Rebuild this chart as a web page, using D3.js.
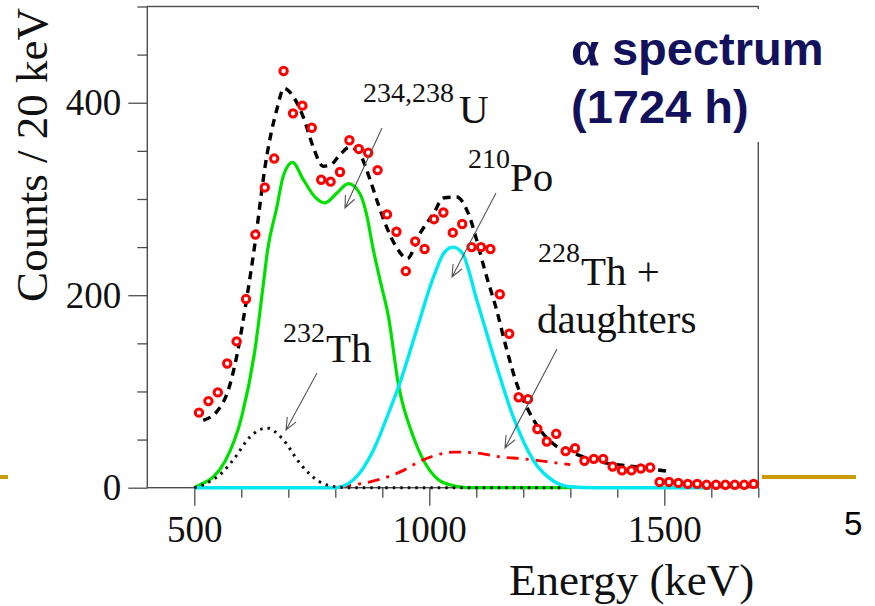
<!DOCTYPE html>
<html lang="en">
<head>
<meta charset="UTF-8">
<title>Alpha spectrum</title>
<style>
  body { margin: 0; background: #fff; }
  svg { display: block; }
</style>
</head>
<body>
<div id="chart"></div>
<script src="https://d3js.org/d3.v7.min.js"></script>
<script>
// measured spectrum, 20 keV bins (bin centre in keV)
const binCentres = [510, 530, 550, 570, 590, 610, 630, 650, 670, 690,
  710, 730, 750, 770, 790, 810, 830, 850, 870, 890,
  910, 930, 950, 970, 990, 1010, 1030, 1050, 1070, 1090,
  1110, 1130, 1150, 1170, 1190, 1210, 1230, 1250, 1270, 1290,
  1310, 1330, 1350, 1370, 1390, 1410, 1430, 1450, 1470, 1490,
  1510, 1530, 1550, 1570, 1590, 1610, 1630, 1650, 1670, 1690];
const counts = [78, 90, 99, 129, 152, 196, 263, 312, 342, 433,
  389, 397, 374, 320, 318, 328, 361, 352, 348, 330,
  284, 266, 225, 256, 248, 279, 286, 265, 274, 250,
  250, 248, 201, 160, 94, 92, 61, 48, 56, 38,
  41, 28, 30, 30, 22, 18, 18, 20, 21, 6,
  6, 5, 4, 4, 3, 3, 3, 3, 3, 4];

// fitted curves, [energy keV, counts]
const totalFit = [[519, 70], [551, 81], [572, 101], [590, 136], [611, 195], [626, 243],
  [654, 344], [675, 392], [691, 415], [711, 406], [732, 385], [753, 354], [774, 334],
  [789, 335], [810, 346], [831, 354], [853, 346], [874, 320], [891, 295], [909, 271],
  [930, 250], [953, 238], [980, 264], [1009, 285], [1030, 301], [1058, 302], [1083, 285],
  [1101, 257], [1118, 226], [1143, 185], [1165, 143], [1186, 108], [1207, 84], [1236, 60],
  [1271, 43], [1306, 36], [1362, 27], [1434, 22], [1508, 17]];
const uFit = [[500, 0], [512, 3], [540, 11], [565, 27], [601, 74], [629, 143], [647, 212], [656, 247],
  [675, 290], [690, 325], [709, 338], [732, 320], [757, 302], [778, 296], [803, 306],
  [828, 316], [853, 305], [866, 285], [881, 247], [897, 212], [913, 178], [934, 108],
  [966, 53], [1001, 18], [1020, 8], [1044, 3], [1080, 0], [1300, 0]];
const poFit = [[500, 0], [800, 0], [838, 8], [881, 39], [916, 81], [937, 108], [973, 164],
  [1009, 219], [1030, 243], [1050, 250], [1070, 244], [1101, 195], [1144, 125], [1179, 73],
  [1222, 28], [1264, 7], [1300, 1], [1350, 0], [1600, 0]];
const th232Fit = [[500, 0], [519, 3], [562, 17], [583, 29], [619, 53], [654, 62], [689, 50],
  [725, 25], [767, 6], [800, 1], [830, 0], [1290, 0]];
const th228Fit = [[500, 0], [780, 0], [825, 2], [882, 7], [945, 18], [974, 26], [1009, 33],
  [1052, 37], [1101, 36], [1151, 32], [1201, 30], [1250, 27], [1300, 24]];

const xMajor = [500, 1000, 1500];
const xMinor = [600, 700, 800, 900, 1100, 1200, 1300, 1400, 1600, 1700];
const yMajor = [0, 200, 400];
const yMinor = [50, 100, 150, 250, 300, 350, 450, 500];

const width = 875, height = 606;
const svg = d3.select('#chart').append('svg')
  .attr('width', width).attr('height', height);

const x = d3.scaleLinear().domain([400, 1700]).range([147.3, 758.3]);
const y = d3.scaleLinear().domain([0, 500]).range([487.7, 6.5]);

const serif = '"Liberation Serif", "Times New Roman", serif';
const axisCol = '#4d4d4d';

// axes
function styleAxis(g) {
  g.select('.domain').remove();
  g.selectAll('.tick line').attr('stroke', axisCol).attr('stroke-width', 1.3);
  g.selectAll('.tick text').attr('font-family', serif).attr('font-size', 37).attr('fill', '#111');
}
svg.append('g').attr('transform', `translate(0,${y(0)})`)
  .call(d3.axisBottom(x).tickValues(xMinor).tickSize(10).tickFormat(''))
  .call(styleAxis);
svg.append('g').attr('transform', `translate(0,${y(0)})`)
  .call(d3.axisBottom(x).tickValues(xMajor).tickSize(18).tickPadding(10).tickFormat(d3.format('d')))
  .call(styleAxis)
  .call(g => g.selectAll('.tick text').attr('dy', '0.72em'));
svg.append('g').attr('transform', `translate(${x(400)},0)`)
  .call(d3.axisLeft(y).tickValues(yMinor).tickSize(10).tickFormat(''))
  .call(styleAxis);
svg.append('g').attr('transform', `translate(${x(400)},0)`)
  .call(d3.axisLeft(y).tickValues(yMajor).tickSize(19).tickPadding(7).tickFormat(d3.format('d')))
  .call(styleAxis);

// frame
svg.append('rect')
  .attr('x', x(400)).attr('y', y(500))
  .attr('width', x(1700) - x(400)).attr('height', y(0) - y(500))
  .attr('fill', 'none').attr('stroke', axisCol).attr('stroke-width', 1.4);

// curves
const line = d3.line().x(d => x(d[0])).y(d => y(d[1])).curve(d3.curveMonotoneX);
const plot = svg.append('g');
plot.append('path').datum(uFit).attr('d', line)
  .attr('fill', 'none').attr('stroke', '#00e000').attr('stroke-width', 3.2);
plot.append('path').datum(th228Fit).attr('d', line)
  .attr('fill', 'none').attr('stroke', '#ff0000').attr('stroke-width', 2.8)
  .attr('stroke-dasharray', '12,7,3,7');
plot.append('path').datum(poFit).attr('d', line)
  .attr('fill', 'none').attr('stroke', '#00e8f0').attr('stroke-width', 3.4);
plot.append('path').datum(th232Fit).attr('d', line)
  .attr('fill', 'none').attr('stroke', '#111').attr('stroke-width', 3)
  .attr('stroke-dasharray', '2.5,5');
plot.append('path').datum(totalFit).attr('d', line)
  .attr('fill', 'none').attr('stroke', '#000').attr('stroke-width', 3.4)
  .attr('stroke-dasharray', '8,6');

// data points
plot.selectAll('circle.pt')
  .data(binCentres.map((e, i) => [e, counts[i]]))
  .join('circle')
  .attr('class', 'pt')
  .attr('cx', d => x(d[0])).attr('cy', d => y(d[1]))
  .attr('r', 3.7)
  .attr('fill', '#fff').attr('stroke', '#ff0000').attr('stroke-width', 3);

// title box (hides the top of the right frame)
svg.append('rect').attr('x', 560).attr('y', 9).attr('width', 215).attr('height', 133).attr('fill', '#fff');
const title = svg.append('g').attr('fill', '#14115c')
  .attr('font-family', '"Liberation Sans", Arial, sans-serif').attr('font-weight', 'bold').attr('font-size', 47);
const t1 = title.append('text').attr('x', 571).attr('y', 65);
t1.append('tspan').attr('font-family', serif).attr('font-weight', 'bold').attr('font-size', 50).text('α');
t1.append('tspan').text(' spectrum');
title.append('text').attr('x', 571).attr('y', 123).text('(1724 h)');

// slide decoration
svg.append('line').attr('x1', 762).attr('x2', 856).attr('y1', 477).attr('y2', 477)
  .attr('stroke', '#cc9a06').attr('stroke-width', 4);
svg.append('line').attr('x1', 0).attr('x2', 8).attr('y1', 477).attr('y2', 477)
  .attr('stroke', '#cc9a06').attr('stroke-width', 4);
svg.append('text').attr('x', 844).attr('y', 535)
  .attr('font-family', '"Liberation Sans", Arial, sans-serif').attr('font-size', 33).text('5');

// axis titles
svg.append('text').attr('x', 509).attr('y', 595)
  .attr('font-family', serif).attr('font-size', 45).attr('fill', '#111').text('Energy (keV)');
svg.append('text').attr('transform', 'translate(47,155) rotate(-90)')
  .attr('text-anchor', 'middle')
  .attr('font-family', serif).attr('font-size', 45).attr('fill', '#111').text('Counts / 20 keV');

// peak labels
function isoLabel(xs, ys, sup, xm, ym, main) {
  const t = svg.append('text').attr('font-family', serif).attr('fill', '#111');
  t.append('tspan').attr('x', xs).attr('y', ys).attr('font-size', 28).text(sup);
  t.append('tspan').attr('x', xm).attr('y', ym).attr('font-size', 41).text(main);
}
isoLabel(363, 102, '234,238', 459, 123, 'U');
isoLabel(468, 168, '210', 510, 191, 'Po');
isoLabel(538, 262, '228', 581, 285, 'Th +');
svg.append('text').attr('x', 537).attr('y', 333)
  .attr('font-family', serif).attr('font-size', 41).attr('fill', '#111').text('daughters');
isoLabel(283, 342, '232', 326, 362, 'Th');

// arrows
const arrows = [
  [[382, 128], [345, 208]],
  [[496, 193], [452, 277]],
  [[557, 349], [505, 448]],
  [[317, 373], [286, 430]]
];
arrows.forEach(([a, b]) => {
  const ang = Math.atan2(b[1] - a[1], b[0] - a[0]);
  const len = 13, spread = 0.4;
  const p1 = [b[0] - len * Math.cos(ang - spread), b[1] - len * Math.sin(ang - spread)];
  const p2 = [b[0] - len * Math.cos(ang + spread), b[1] - len * Math.sin(ang + spread)];
  svg.append('path')
    .attr('d', `M${a[0]},${a[1]}L${b[0]},${b[1]}M${p1[0]},${p1[1]}L${b[0]},${b[1]}L${p2[0]},${p2[1]}`)
    .attr('fill', 'none').attr('stroke', '#555').attr('stroke-width', 1.1);
});
</script>
</body>
</html>
